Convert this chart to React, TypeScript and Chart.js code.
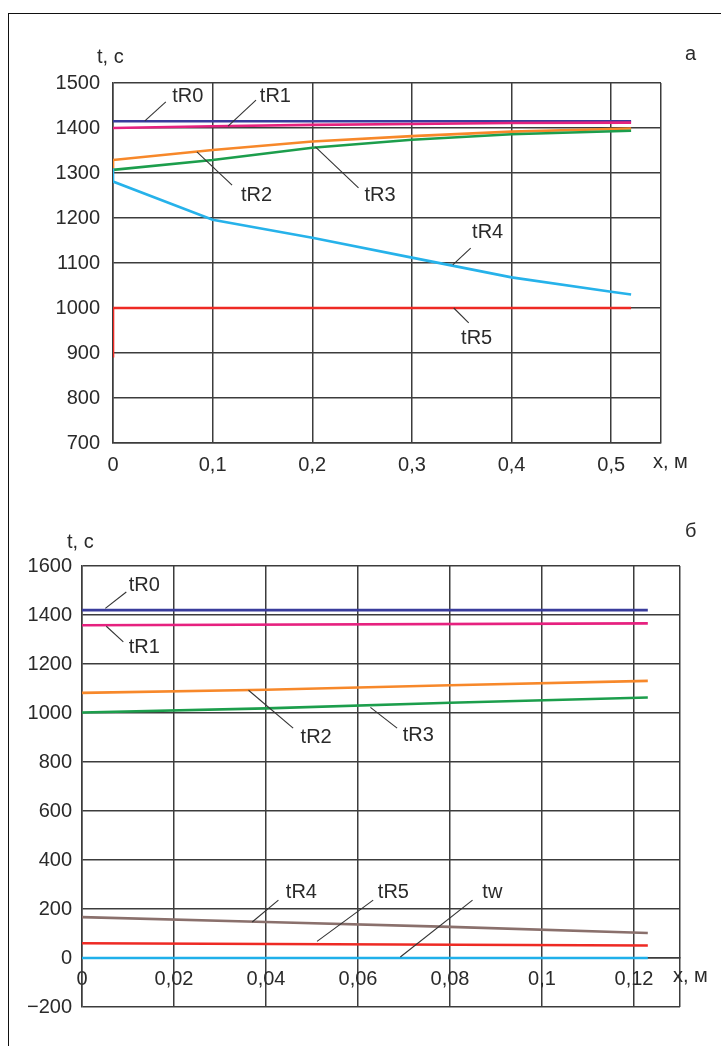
import React, { useEffect, useRef } from "react";
import { Chart, registerables } from "chart.js";
Chart.register(...registerables);

const FONT = '"Liberation Sans", Arial, Helvetica, sans-serif';
const TEXT = "#2a2a2a";
const GRID = "#3c3c3c";

const COL_R0 = "#3a3c9c";
const COL_R1 = "#e6217f";
const COL_R2 = "#f7882a";
const COL_R3 = "#1c9e4c";
const COL_R4A = "#26b2ea";
const COL_R4B = "#8a706c";
const COL_R5 = "#ee2a24";
const COL_TW = "#1fb0ea";

// ---------- Chart "а" ----------
const aXLabels = [0, 0.1, 0.2, 0.3, 0.4, 0.5];
const aXMax = 0.55;
const aYLabels = [700, 800, 900, 1000, 1100, 1200, 1300, 1400, 1500];

const a_tR0_x = [0, 0.52];
const a_tR0_y = [1415, 1415];
const a_tR1_x = [0, 0.1, 0.2, 0.3, 0.4, 0.52];
const a_tR1_y = [1400, 1404, 1407, 1409, 1411, 1412];
const a_tR2_x = [0, 0, 0.1, 0.2, 0.3, 0.4, 0.52];
const a_tR2_y = [1303, 1329, 1351, 1370, 1382, 1392, 1399];
const a_tR3_x = [0, 0.1, 0.2, 0.3, 0.4, 0.52];
const a_tR3_y = [1307, 1329, 1356, 1374, 1386, 1394];
const a_tR4_x = [0, 0, 0.1, 0.2, 0.3, 0.4, 0.5, 0.52];
const a_tR4_y = [1310, 1281, 1196, 1156, 1112, 1068, 1036, 1030];
const a_tR5_x = [0, 0, 0.52];
const a_tR5_y = [890, 1000, 1000];

// label annotations: [text, textX, textY, lineX1, lineY1, lineX2, lineY2] in data units
const aNotes: [string, number, number, number, number, number, number][] = [
  ["tR0", 0.075, 1469, 0.053, 1458, 0.032, 1416],
  ["tR1", 0.163, 1469, 0.1435, 1462, 0.1155, 1404],
  ["tR2", 0.144, 1251, 0.1195, 1273, 0.0842, 1347],
  ["tR3", 0.268, 1251, 0.2464, 1267, 0.2031, 1358],
  ["tR4", 0.376, 1167, 0.359, 1133, 0.341, 1096],
  ["tR5", 0.365, 933, 0.357, 967, 0.342, 1000],
];

// ---------- Chart "б" ----------
const bXLabels = [0, 0.02, 0.04, 0.06, 0.08, 0.1, 0.12];
const bXMax = 0.13;
const bYLabels = [-200, 0, 200, 400, 600, 800, 1000, 1200, 1400, 1600];

const b_tR0_x = [0, 0.123];
const b_tR0_y = [1420, 1420];
const b_tR1_x = [0, 0.123];
const b_tR1_y = [1358, 1366];
const b_tR2_x = [0, 0.04, 0.08, 0.123];
const b_tR2_y = [1082, 1095, 1113, 1131];
const b_tR3_x = [0, 0.04, 0.08, 0.123];
const b_tR3_y = [1002, 1019, 1042, 1063];
const b_tR4_x = [0, 0.04, 0.08, 0.123];
const b_tR4_y = [167, 147, 127, 102];
const b_tR5_x = [0, 0.123];
const b_tR5_y = [60, 51];
const b_tw_x = [0, 0.123];
const b_tw_y = [0, 0];

const bNotes: [string, number, number, number, number, number, number][] = [
  ["tR0", 0.01354, 1521, 0.00963, 1494, 0.00507, 1427],
  ["tR1", 0.01354, 1269, 0.00898, 1290, 0.00528, 1354],
  ["tR2", 0.0509, 902, 0.0459, 938, 0.0362, 1093],
  ["tR3", 0.0731, 909, 0.0685, 938, 0.0627, 1023],
  ["tR4", 0.0477, 269, 0.0427, 236, 0.037, 147],
  ["tR5", 0.0677, 269, 0.0633, 236, 0.0511, 68],
  ["tw", 0.0892, 269, 0.0849, 236, 0.0692, 4],
];

function pts(xs: number[], ys: number[]) {
  return xs.map((x, i) => ({ x, y: ys[i] }));
}

function ds(xs: number[], ys: number[], color: string) {
  return {
    data: pts(xs, ys),
    borderColor: color,
    backgroundColor: color,
    borderWidth: 2.6,
    pointRadius: 0,
    fill: false,
    tension: 0,
  };
}

function fmtX(v: number) {
  return String(parseFloat(v.toFixed(3))).replace(".", ",");
}
function fmtY(v: number) {
  return v < 0 ? "\u2212" + String(-v) : String(v);
}

function inList(list: number[], v: number) {
  return list.some((t) => Math.abs(t - v) < 1e-9);
}

function notesPlugin(notes: any[], xTitleDx: number, yTitleDx: number, yTitleDy: number, xTitleY: (c: any) => number) {
  return {
    id: "notes",
    afterDraw(chart: any) {
      const ctx = chart.ctx;
      const xs = chart.scales.x;
      const ys = chart.scales.y;
      const area = chart.chartArea;
      ctx.save();
      ctx.strokeStyle = "#333";
      ctx.lineWidth = 1.1;
      ctx.fillStyle = TEXT;
      ctx.font = "20px " + FONT;
      ctx.textAlign = "center";
      ctx.textBaseline = "middle";
      for (const n of notes) {
        const [t, tx, ty, x1, y1, x2, y2] = n;
        ctx.beginPath();
        ctx.moveTo(xs.getPixelForValue(x1), ys.getPixelForValue(y1));
        ctx.lineTo(xs.getPixelForValue(x2), ys.getPixelForValue(y2));
        ctx.stroke();
        ctx.fillText(t, xs.getPixelForValue(tx), ys.getPixelForValue(ty));
      }
      ctx.textAlign = "left";
      ctx.fillText("t, с", area.left + yTitleDx, area.top + yTitleDy);
      ctx.fillText("x, м", area.right + xTitleDx, xTitleY(chart));
      ctx.restore();
    },
  };
}

function axisCommon() {
  return {
    grid: { color: GRID, lineWidth: 1.5, drawTicks: false },
    border: { display: true, color: GRID, width: 1.5 },
  };
}

function fixedTicks(values: number[]) {
  return (s: any) => {
    s.ticks = values.map((v) => ({ value: v }));
  };
}

function makeA() {
  return {
    type: "line",
    data: {
      datasets: [
        ds(a_tR5_x, a_tR5_y, COL_R5),
        ds(a_tR4_x, a_tR4_y, COL_R4A),
        ds(a_tR3_x, a_tR3_y, COL_R3),
        ds(a_tR2_x, a_tR2_y, COL_R2),
        ds(a_tR1_x, a_tR1_y, COL_R1),
        ds(a_tR0_x, a_tR0_y, COL_R0),
      ],
    },
    options: {
      responsive: false,
      animation: false,
      devicePixelRatio: 1,
      layout: { padding: { left: 0, top: 83, right: 60, bottom: 17 } },
      plugins: { legend: { display: false }, tooltip: { enabled: false } },
      scales: {
        x: {
          type: "linear",
          min: 0,
          max: aXMax,
          ...axisCommon(),
          afterBuildTicks: fixedTicks([...aXLabels, aXMax]),
          ticks: {
            autoSkip: false,
            maxRotation: 0,
            padding: 10,
            color: TEXT,
            font: { family: FONT, size: 20 },
            callback: (v: number) => (inList(aXLabels, v) ? fmtX(v) : ""),
          },
          afterFit: (s: any) => {
            s.height = 40;
          },
        },
        y: {
          type: "linear",
          min: 700,
          max: 1500,
          ...axisCommon(),
          afterBuildTicks: fixedTicks(aYLabels),
          ticks: {
            padding: 13,
            color: TEXT,
            font: { family: FONT, size: 20 },
            callback: (v: number) => (inList(aYLabels, v) ? fmtY(v) : ""),
          },
          afterFit: (s: any) => {
            s.width = 113;
          },
        },
      },
    },
    plugins: [
      notesPlugin(aNotes, -8, -16, -26, (c: any) => c.chartArea.bottom + 19),
    ],
  };
}

function makeB() {
  return {
    type: "line",
    data: {
      datasets: [
        ds(b_tw_x, b_tw_y, COL_TW),
        ds(b_tR5_x, b_tR5_y, COL_R5),
        ds(b_tR4_x, b_tR4_y, COL_R4B),
        ds(b_tR3_x, b_tR3_y, COL_R3),
        ds(b_tR2_x, b_tR2_y, COL_R2),
        ds(b_tR1_x, b_tR1_y, COL_R1),
        ds(b_tR0_x, b_tR0_y, COL_R0),
      ],
    },
    options: {
      responsive: false,
      animation: false,
      devicePixelRatio: 1,
      layout: { padding: { left: 0, top: 76, right: 41, bottom: 39 } },
      plugins: { legend: { display: false }, tooltip: { enabled: false } },
      scales: {
        x: {
          type: "linear",
          position: { y: 0 },
          min: 0,
          max: bXMax,
          ...axisCommon(),
          afterBuildTicks: fixedTicks([...bXLabels, bXMax]),
          ticks: {
            autoSkip: false,
            maxRotation: 0,
            padding: 9,
            color: TEXT,
            font: { family: FONT, size: 20 },
            callback: (v: number) => (inList(bXLabels, v) ? fmtX(v) : ""),
          },
        },
        y: {
          type: "linear",
          min: -200,
          max: 1600,
          ...axisCommon(),
          afterBuildTicks: fixedTicks(bYLabels),
          ticks: {
            padding: 10,
            color: TEXT,
            font: { family: FONT, size: 20 },
            callback: (v: number) => (inList(bYLabels, v) ? fmtY(v) : ""),
          },
          afterFit: (s: any) => {
            s.width = 82;
          },
        },
      },
    },
    plugins: [
      notesPlugin(bNotes, -7, -15, -24, (c: any) => c.scales.y.getPixelForValue(0) + 18),
    ],
  };
}

function ChartCanvas({ top, height, make }: { top: number; height: number; make: () => any }) {
  const ref = useRef<HTMLCanvasElement | null>(null);
  useEffect(() => {
    const chart = new Chart(ref.current as HTMLCanvasElement, make());
    return () => chart.destroy();
  }, []);
  return (
    <canvas
      ref={ref}
      width={721}
      height={height}
      style={{ position: "absolute", left: 0, top, width: 721, height, display: "block" }}
    />
  );
}

export default function App() {
  return (
    <div
      style={{
        position: "absolute",
        left: 0,
        top: 0,
        width: 721,
        height: 1046,
        overflow: "hidden",
        background: "#fff",
        fontFamily: FONT,
      }}
    >
      <div
        style={{
          position: "absolute",
          left: 8,
          top: 13,
          width: 800,
          height: 1100,
          borderLeft: "1px solid #111",
          borderTop: "1px solid #111",
        }}
      />
      <ChartCanvas top={0} height={500} make={makeA} />
      <ChartCanvas top={490} height={556} make={makeB} />
      <div style={{ position: "absolute", left: 685, top: 40, fontSize: 20, color: TEXT, lineHeight: "26px" }}>а</div>
      <div style={{ position: "absolute", left: 685, top: 517, fontSize: 20, color: TEXT, lineHeight: "26px" }}>б</div>
    </div>
  );
}
